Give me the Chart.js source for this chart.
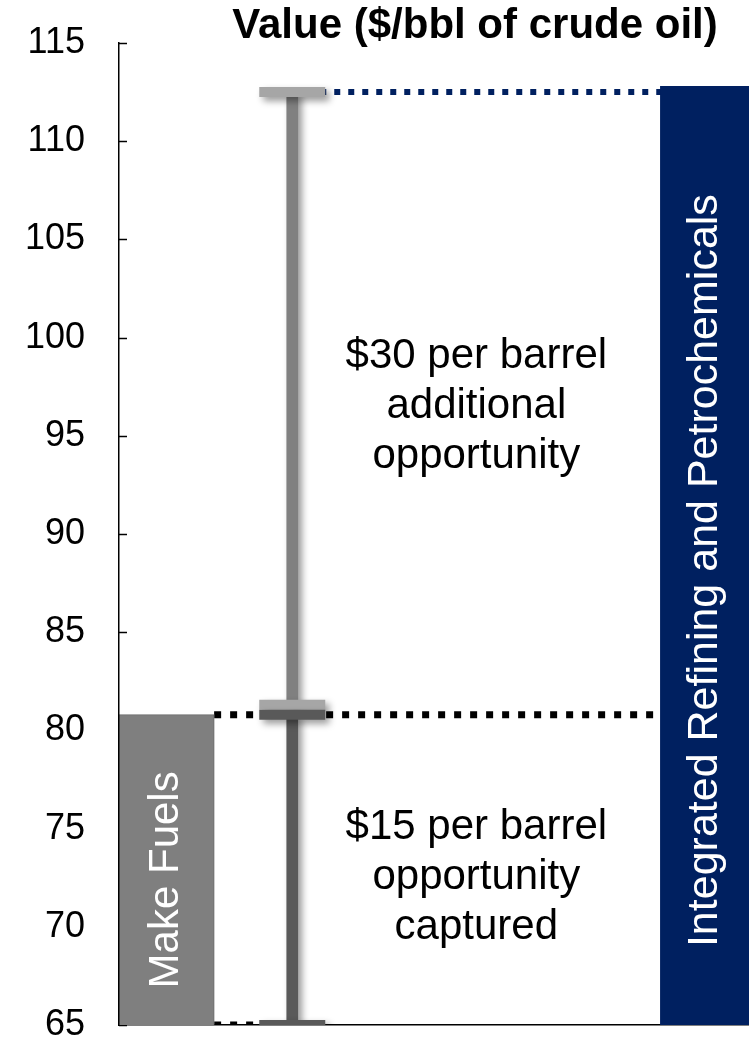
<!DOCTYPE html>
<html>
<head>
<meta charset="utf-8">
<script src="https://cdn.jsdelivr.net/npm/chart.js@4.4.1/dist/chart.umd.min.js"></script>
<style>
  html, body { margin: 0; padding: 0; background: #fff; }
  #wrap { width: 749px; height: 1042px; }
</style>
</head>
<body>
<div id="wrap"><canvas id="valueChart"></canvas></div>
<script>
// $/bbl of crude oil
const columns = ['Make Fuels', 'Opportunity', 'Integrated Refining and Petrochemicals'];
const makeFuels = [65, 80.8];
const integrated = [65, 112.8];
const capturedRange = [65, 80.8];
const additionalRange = [81.3, 112.5];
const yTicks = [65, 70, 75, 80, 85, 90, 95, 100, 105, 110, 115];
const capturedText = ['$15 per barrel', 'opportunity', 'captured'];
const additionalText = ['$30 per barrel', 'additional', 'opportunity'];
const chartTitle = 'Value ($/bbl of crude oil)';

// where each column sits on the hidden 0..100 x scale
const slot = { fuels: 7.5, fuelsEdge: 15.1, range: 27.5, integrated: 93 };

const FONT = "'Liberation Sans', Arial, sans-serif";
const NAVY = '#002060';

const stem = (range, color) => ({
  type: 'bar',
  data: [{ x: slot.range, y: range }],
  backgroundColor: color,
  barThickness: 11,
  grouped: false,
  order: 3,
  shadow: true,
});

const caps = (range, color) => ({
  type: 'line',
  data: range.map(v => ({ x: slot.range, y: v })),
  showLine: false,
  pointStyle: 'line',
  pointRadius: 33,
  pointHoverRadius: 33,
  pointBorderWidth: 10,
  pointHoverBorderWidth: 10,
  pointBorderColor: color,
  order: 1,
  shadow: true,
});

const dotted = (from, to, level, color, width, dash) => ({
  type: 'line',
  data: [{ x: from, y: level }, { x: to, y: level }],
  borderColor: color,
  borderWidth: width,
  borderDash: dash,
  pointRadius: 0,
  order: 10,
});

const datasets = [
  dotted(slot.fuelsEdge, slot.integrated, makeFuels[1], '#000', 7, [7, 9]),
  dotted(slot.fuelsEdge, slot.range, capturedRange[0], '#000', 7, [7, 9]),
  dotted(slot.range, slot.integrated, additionalRange[1], NAVY, 6, [6, 8]),
  {
    type: 'bar',
    label: columns[0],
    data: [{ x: slot.fuels, y: makeFuels }],
    backgroundColor: '#7f7f7f',
    borderColor: '#6b6b6b',
    borderWidth: 1,
    barThickness: 96,
    grouped: false,
    order: 5,
  },
  {
    type: 'bar',
    label: columns[2],
    data: [{ x: slot.integrated, y: integrated }],
    backgroundColor: NAVY,
    barThickness: 89,
    grouped: false,
    order: 5,
  },
  stem(capturedRange, '#595959'),
  stem(additionalRange, '#808080'),
  caps(capturedRange, '#595959'),
  caps(additionalRange, '#a6a6a6'),
];

// soft drop shadow under the range bar and its caps
const shadowPlugin = {
  id: 'shadow',
  beforeDatasetDraw(chart, args) {
    if (!chart.data.datasets[args.index].shadow) return;
    const ctx = chart.ctx;
    ctx.save();
    ctx.shadowColor = 'rgba(0,0,0,0.4)';
    ctx.shadowBlur = 7;
    ctx.shadowOffsetX = 4;
    ctx.shadowOffsetY = 4;
  },
  afterDatasetDraw(chart, args) {
    if (chart.data.datasets[args.index].shadow) chart.ctx.restore();
  },
};

// short tick marks pointing into the plot (bars are drawn over them)
const innerTicks = {
  id: 'innerTicks',
  beforeDatasetsDraw(chart) {
    const { ctx, chartArea, scales: { y } } = chart;
    ctx.save();
    ctx.strokeStyle = '#000';
    ctx.lineWidth = 1.5;
    y.ticks.forEach(t => {
      const py = Math.round(y.getPixelForValue(t.value)) + 0.5;
      ctx.beginPath();
      ctx.moveTo(chartArea.left, py);
      ctx.lineTo(chartArea.left + 8, py);
      ctx.stroke();
    });
    ctx.restore();
  },
};

const labelsPlugin = {
  id: 'labels',
  afterDatasetsDraw(chart) {
    const { ctx, scales: { y } } = chart;
    const fuelsBar = chart.getDatasetMeta(3).data[0];
    const navyBar = chart.getDatasetMeta(4).data[0];
    const stemBar = chart.getDatasetMeta(5).data[0];

    ctx.save();
    ctx.fillStyle = '#000';
    ctx.textAlign = 'center';
    ctx.textBaseline = 'middle';

    ctx.font = `bold 42px ${FONT}`;
    ctx.fillText(chartTitle, 475, 26);

    // notes between the range bar and the integrated column
    const cx = (stemBar.x + navyBar.x - navyBar.width / 2) / 2;
    ctx.font = `42px ${FONT}`;
    const block = (lines, range) => {
      const cy = y.getPixelForValue((range[0] + range[1]) / 2) + 8;
      lines.forEach((s, i) => ctx.fillText(s, cx, cy + (i - 1) * 50));
    };
    block(additionalText, additionalRange);
    block(capturedText, capturedRange);

    // column names written up the bars
    ctx.fillStyle = '#fff';
    const upright = (bar, text, size, shift) => {
      ctx.save();
      ctx.font = `${size}px ${FONT}`;
      ctx.translate(bar.x, (bar.y + bar.base) / 2 + shift);
      ctx.rotate(-Math.PI / 2);
      ctx.fillText(text, 0, 0);
      ctx.restore();
    };
    upright(fuelsBar, columns[0], 42, 10);
    upright(navyBar, columns[2], 43, 15);
    ctx.restore();
  },
};

new Chart(document.getElementById('valueChart'), {
  type: 'bar',
  data: { datasets },
  options: {
    responsive: true,
    maintainAspectRatio: false,
    animation: false,
    layout: { autoPadding: false, padding: { top: 43, bottom: 17, left: 0, right: 0 } },
    plugins: {
      legend: { display: false },
      tooltip: { enabled: false },
    },
    scales: {
      x: {
        type: 'linear',
        min: 0,
        max: 100,
        offset: false,
        afterFit(scale) {
          scale.height = 0;
          scale.paddingLeft = 0;
          scale.paddingRight = 0;
        },
        ticks: { display: false },
        grid: { display: false, drawTicks: false },
        border: { display: true, color: '#000', width: 1.5 },
      },
      y: {
        min: 65,
        max: 115,
        afterBuildTicks(scale) {
          scale.ticks = yTicks.map(v => ({ value: v }));
        },
        afterFit(scale) {
          scale.width = 119;
          scale.paddingTop = 0;
          scale.paddingBottom = 0;
        },
        ticks: {
          color: '#000',
          padding: 34,
          font: { family: FONT, size: 36 },
        },
        grid: { display: false, drawTicks: false },
        border: { display: true, color: '#000', width: 1.5, z: 1 },
      },
    },
  },
  plugins: [shadowPlugin, innerTicks, labelsPlugin],
});
</script>
</body>
</html>
